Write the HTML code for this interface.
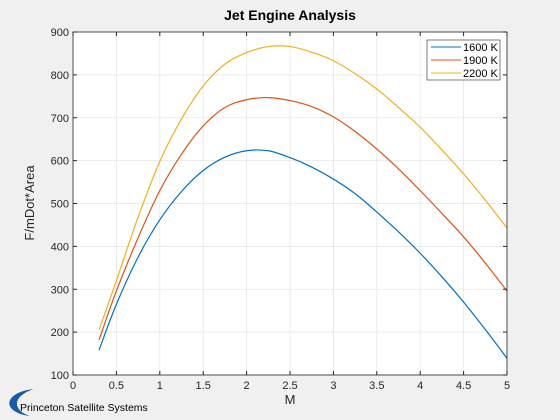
<!DOCTYPE html>
<html><head><meta charset="utf-8"><style>
body{margin:0;background:#f0f0f0;}
svg{display:block;font-family:"Liberation Sans",sans-serif;}
</style></head><body>
<svg width="560" height="420">
<rect width="560" height="420" fill="#f0f0f0"/>
<text x="290" y="20" text-anchor="middle" font-weight="bold" font-size="14" fill="#000">Jet Engine Analysis</text>
<rect x="73" y="32" width="434" height="343" fill="#fff"/>
<g id="grid"></g><g id="series"></g><g id="axes"></g>
<text x="290" y="404" text-anchor="middle" font-size="13" fill="#262626">M</text>
<text transform="translate(34,203) rotate(-90)" text-anchor="middle" font-size="13" fill="#262626">F/mDot*Area</text>
<g>
<rect x="427" y="40" width="73" height="40" fill="#fff" stroke="#262626" stroke-width="0.6"/>
<line x1="431" y1="47" x2="461" y2="47" stroke="#0072bd"/>
<text x="463" y="51" font-size="11" fill="#000">1600 K</text>
<line x1="431" y1="60" x2="461" y2="60" stroke="#d95319"/>
<text x="463" y="64" font-size="11" fill="#000">1900 K</text>
<line x1="431" y1="73" x2="461" y2="73" stroke="#edb120"/>
<text x="463" y="77" font-size="11" fill="#000">2200 K</text>
</g>
<g>
<path d="M34 389 C 4 392, 0 412, 30 416 C 12 410, 12 396, 34 389 Z" fill="#1a5aa6"/>
<text x="20" y="411" font-size="10.5" fill="#000">Princeton Satellite Systems</text>
</g>
</svg>
<script>
const mach=[0.3,0.5,0.75,1.0,1.25,1.5,1.75,2.0,2.25,2.5,2.75,3.0,3.25,3.5,3.75,4.0,4.25,4.5,4.75,5.0];
const s1600=[158,265,375,462,528,577,608,623,623,607,585,557,523,480,434,384,329,270,206,139];
const s1900=[182,296,420,530,615,681,724,742,747,740,726,702,668,627,581,530,477,422,361,296];
const s2200=[205,320,468,598,697,774,825,852,866,866,853,833,803,767,724,678,625,569,508,443];
const xTicks=[0,0.5,1,1.5,2,2.5,3,3.5,4,4.5,5];
const yTicks=[100,200,300,400,500,600,700,800,900];
const NS="http://www.w3.org/2000/svg";
const X=v=>73+v/5*434, Y=v=>375-(v-100)/800*343;
function mk(t,a,p){const e=document.createElementNS(NS,t);for(const k in a)e.setAttribute(k,a[k]);p.appendChild(e);return e;}
const grid=document.getElementById('grid'),axes=document.getElementById('axes'),ser=document.getElementById('series');
xTicks.forEach(t=>{
 const g=mk('line',{x1:X(t),x2:X(t),y1:32,y2:375,stroke:'#e6e6e6','stroke-width':0.8},grid);
 
 
 mk('line',{x1:X(t),x2:X(t),y1:375,y2:371,stroke:'#262626'},axes);
 mk('line',{x1:X(t),x2:X(t),y1:32,y2:36,stroke:'#262626'},axes);
 const tx=mk('text',{x:X(t),y:389,'text-anchor':'middle','font-size':11,fill:'#262626'},axes);
 tx.textContent=t;
 
 
});
yTicks.forEach(t=>{
 const g=mk('line',{x1:73,x2:507,y1:Y(t),y2:Y(t),stroke:'#e6e6e6','stroke-width':0.8},grid);
 
 
 mk('line',{x1:73,x2:77,y1:Y(t),y2:Y(t),stroke:'#262626'},axes);
 mk('line',{x1:507,x2:503,y1:Y(t),y2:Y(t),stroke:'#262626'},axes);
 const tx=mk('text',{x:69,y:Y(t)+4,'text-anchor':'end','font-size':11,fill:'#262626'},axes);
 tx.textContent=t;
 
 
});
const box=mk('rect',{x:73,y:32,width:434,height:343,fill:'none',stroke:'#262626','stroke-width':0.8},axes);


function path(vals){
 const p=mach.map((m,i)=>[X(m),Y(vals[i])]);
 let d='M'+p[0][0]+' '+p[0][1];
 for(let i=0;i<p.length-1;i++){
  const p0=p[i-1]||p[i],p1=p[i],p2=p[i+1],p3=p[i+2]||p2;
  const c1=[p1[0]+(p2[0]-p0[0])/6,p1[1]+(p2[1]-p0[1])/6];
  const c2=[p2[0]-(p3[0]-p1[0])/6,p2[1]-(p3[1]-p1[1])/6];
  d+=` C${c1[0]} ${c1[1]} ${c2[0]} ${c2[1]} ${p2[0]} ${p2[1]}`;
 }
 return d;
}
[[s1600,'#0072bd','series-1600k'],[s1900,'#d95319','series-1900k'],[s2200,'#edb120','series-2200k']].forEach(([v,c,n])=>{
 const e=mk('path',{d:path(v),fill:'none',stroke:c,'stroke-width':1.2},ser);
 
 
});
</script>
</body></html>
